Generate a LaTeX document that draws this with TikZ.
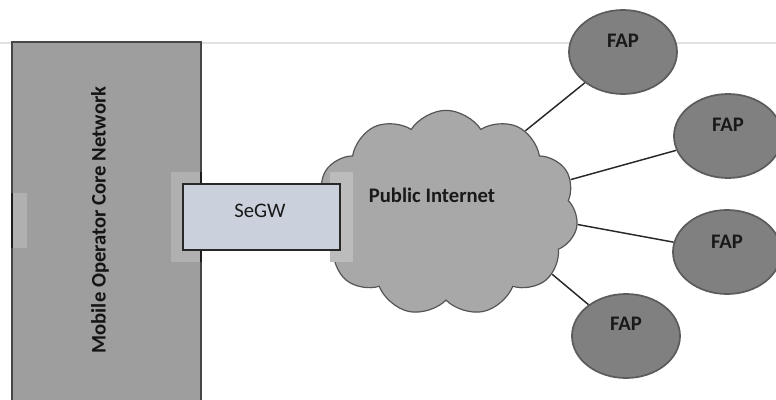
\documentclass[tikz,border=0pt]{standalone}
\usepackage{fontspec}
\setmainfont{Carlito}
\usetikzlibrary{shapes.geometric, shapes.symbols, positioning}

\begin{document}
\begin{tikzpicture}[x=0.75pt,y=0.75pt,yscale=-1,xscale=1,
    bigfont/.style={font=\fontsize{15.5}{18}\selectfont},
    fapnode/.style={ellipse, draw={rgb, 255:red, 92; green, 92; blue, 92 }, line width=1.3pt, fill={rgb, 255:red, 128; green, 128; blue, 128 }, minimum width=81pt, minimum height=63pt, inner sep=0pt},
    faptext/.style={bigfont, font=\fontsize{15.5}{18}\selectfont\bfseries, text={rgb, 255:red, 25; green, 25; blue, 25 }},
    link/.style={draw={rgb, 255:red, 40; green, 40; blue, 40 }, line width=1.1pt},
    portbox/.style={fill={rgb, 255:red, 176; green, 176; blue, 176 }}
]
    \useasboundingbox (0,0) rectangle (776,400);
    \clip (0,0) rectangle (776,400);

    %Straight Lines: faint rule at the top
    \draw [color={rgb, 255:red, 225; green, 225; blue, 225 }, line width=0.8pt] (0,43) -- (776,43) ;

    %Shape: Rectangle - core network
    \draw [draw={rgb, 255:red, 70; green, 70; blue, 70 }, fill={rgb, 255:red, 158; green, 158; blue, 158 }, line width=0.8pt] (12,42) -- (201,42) -- (201,404) -- (12,404) -- cycle ;
    %Shape: Rectangle - ports of the core network
    \path [portbox] (12.5,193) rectangle (27,248) ;
    \draw [draw={rgb, 255:red, 30; green, 30; blue, 30 }, line width=0.8pt] (12,193) -- (12,248) ;
    \path [portbox] (171,172) rectangle (200.5,262) ;
    \draw [draw={rgb, 255:red, 30; green, 30; blue, 30 }, line width=0.8pt] (201,172) -- (201,262) ;

    % Text Node
    \node [bigfont, font=\fontsize{15.5}{18}\selectfont\bfseries, rotate=90, text={rgb, 255:red, 20; green, 20; blue, 20 }] (core) at (100,220) {Mobile Operator Core Network};

    %Shape: Cloud
    \node [cloud, cloud puffs=11, cloud puff arc=115, aspect=1.3, draw={rgb, 255:red, 85; green, 85; blue, 85 }, fill={rgb, 255:red, 168; green, 168; blue, 168 }, line width=0.9pt, minimum width=198pt, minimum height=154pt] (inet) at (446,213) {};
    % Text Node
    \node [font=\fontsize{15.5}{18}\selectfont\bfseries, text={rgb, 255:red, 25; green, 25; blue, 25 }] (inettext) at (432,195) {Public Internet};

    %Shape: Rectangle - port behind SeGW
    \path [portbox, fill={rgb, 255:red, 188; green, 188; blue, 188 }] (330,172) rectangle (353,262) ;
    %Shape: Rectangle - SeGW
    \node [draw={rgb, 255:red, 40; green, 40; blue, 40 }, fill={rgb, 255:red, 202; green, 209; blue, 220 }, line width=0.8pt, minimum width=117.75pt, minimum height=49.5pt, inner sep=0pt] (segw) at (261.5,217) {};
    % Text Node
    \node [bigfont, text={rgb, 255:red, 25; green, 25; blue, 25 }] (segwtext) at (260,211) {SeGW};

    %Shape: Ellipse - FAPs
    \node [fapnode] (fap1) at (623,52) {};
    \node [fapnode] (fap2) at (728,136) {};
    \node [fapnode] (fap3) at (727,252) {};
    \node [fapnode] (fap4) at (626,336) {};
    % Text Node
    \node [faptext] (fap1text) at (623,41) {FAP};
    \node [faptext] (fap2text) at (728,125) {FAP};
    \node [faptext] (fap3text) at (727,242) {FAP};
    \node [faptext] (fap4text) at (626,324) {FAP};

    %Straight Lines
    \draw [link] (inet.46) -- (fap1) ;
    \draw [link] (inet.15) -- (fap2) ;
    \draw [link] (inet.-5) -- (fap3) ;
    \draw [link] (inet.-30) -- (fap4) ;

\end{tikzpicture}
\end{document}
